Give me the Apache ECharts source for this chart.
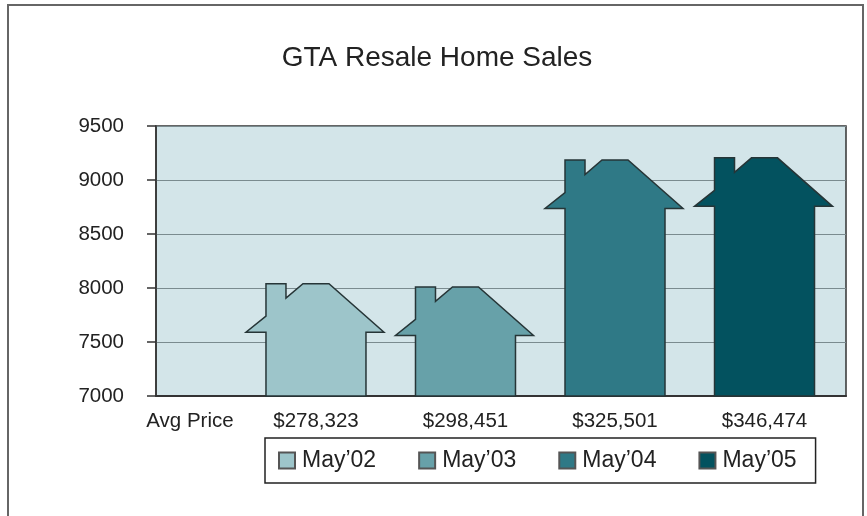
<!DOCTYPE html>
<html><head><meta charset="utf-8">
<style>html,body{margin:0;padding:0;background:#fff}#c{width:867px;height:516px}</style>
<script src="https://cdn.jsdelivr.net/npm/echarts@6/dist/echarts.min.js"></script>
</head><body><div id="c"></div>
<script>
const title = 'GTA Resale Home Sales';
const seriesNames = ['May\u201902', 'May\u201903', 'May\u201904', 'May\u201905'];
const salesValues = [8040, 8010, 9185, 9205];
const priceLabels = ['$278,323', '$298,451', '$325,501', '$346,474'];
const rowLabel = 'Avg Price';
const yTicks = { min: 7000, max: 9500, interval: 500 };
const colors = ['#9dc5ca', '#67a1a9', '#2f7986', '#03525f'];

// Label slots on the x value axis: 0.157 is the row caption, 1..4 the houses.
const labelSlots = [0.157, 1, 2, 3, 4];
const labelBySlot = { 0.157: rowLabel };
priceLabels.forEach((p, i) => { labelBySlot[i + 1] = p; });

// House outline, in pixels relative to the roof top and the slot centre.
function house(params, api) {
  const slot = api.value(0), val = api.value(1);
  const top = api.coord([slot, val]);
  const base = api.coord([slot, yTicks.min]);
  const cx = top[0], t = top[1], b = base[1];
  const pts = [
    [cx - 50, b], [cx - 50, t + 48.5], [cx - 70, t + 48.5], [cx - 50, t + 32.5],
    [cx - 50, t], [cx - 30, t], [cx - 30, t + 14.5], [cx - 13, t], [cx + 13, t],
    [cx + 68, t + 48.5], [cx + 50, t + 48.5], [cx + 50, b]
  ];
  return {
    type: 'polygon',
    shape: { points: pts },
    style: { fill: colors[params.seriesIndex], stroke: '#263537', lineWidth: 1.5 }
  };
}

const font = '"Liberation Sans", Arial, sans-serif';
const chart = echarts.init(document.getElementById('c'), null, { renderer: 'canvas' });
chart.setOption({
  animation: false,
  backgroundColor: '#fff',
  textStyle: { fontFamily: font },
  title: {
    text: title, left: 432, top: 39, textAlign: 'center',
    textStyle: { fontSize: 28, fontWeight: 'normal', color: '#222', fontFamily: font }
  },
  graphic: [{
    type: 'rect', silent: true, z: 0,
    shape: { x: 8, y: 5, width: 855, height: 530 },
    style: { fill: 'none', stroke: '#666', lineWidth: 2 }
  }],
  grid: { left: 156, top: 126, width: 690, height: 270, backgroundColor: '#d3e5e9', show: true, borderWidth: 1.5, borderColor: '#333' },
  xAxis: {
    type: 'value', min: -0.07, max: 4.545,
    axisLine: { show: true, onZero: false, lineStyle: { color: '#333', width: 2 } },
    axisTick: { show: false },
    splitLine: { show: false },
    axisLabel: {
      customValues: labelSlots,
      formatter: v => labelBySlot[v],
      fontSize: 20.5, color: '#222', margin: 15, hideOverlap: false
    }
  },
  yAxis: {
    type: 'value', min: yTicks.min, max: yTicks.max, interval: yTicks.interval,
    axisLine: { show: true, onZero: false, lineStyle: { color: '#333', width: 1.5 } },
    axisTick: { show: true, inside: false, length: 9, lineStyle: { color: '#333', width: 1.5 } },
    axisLabel: { fontSize: 20.5, color: '#222', margin: 32, formatter: v => String(v) },
    splitLine: { show: true, lineStyle: { color: '#7a8b8f', width: 1 } }
  },
  legend: {
    left: 265, top: 438, width: 550,
    itemWidth: 16, itemHeight: 16, itemGap: 42,
    padding: [11, 19, 11, 13],
    borderColor: '#222', borderWidth: 1.5, backgroundColor: '#fff',
    icon: 'rect',
    textStyle: { fontSize: 23, color: '#222', padding: [0, 0, 0, 2] },
    data: seriesNames
  },
  series: seriesNames.map((name, i) => ({
    name,
    type: 'custom',
    renderItem: house,
    itemStyle: { color: colors[i], borderColor: '#555', borderWidth: 1 },
    encode: { x: 0, y: 1 },
    clip: false,
    data: [[i + 1, salesValues[i]]]
  }))
});
</script></body></html>
